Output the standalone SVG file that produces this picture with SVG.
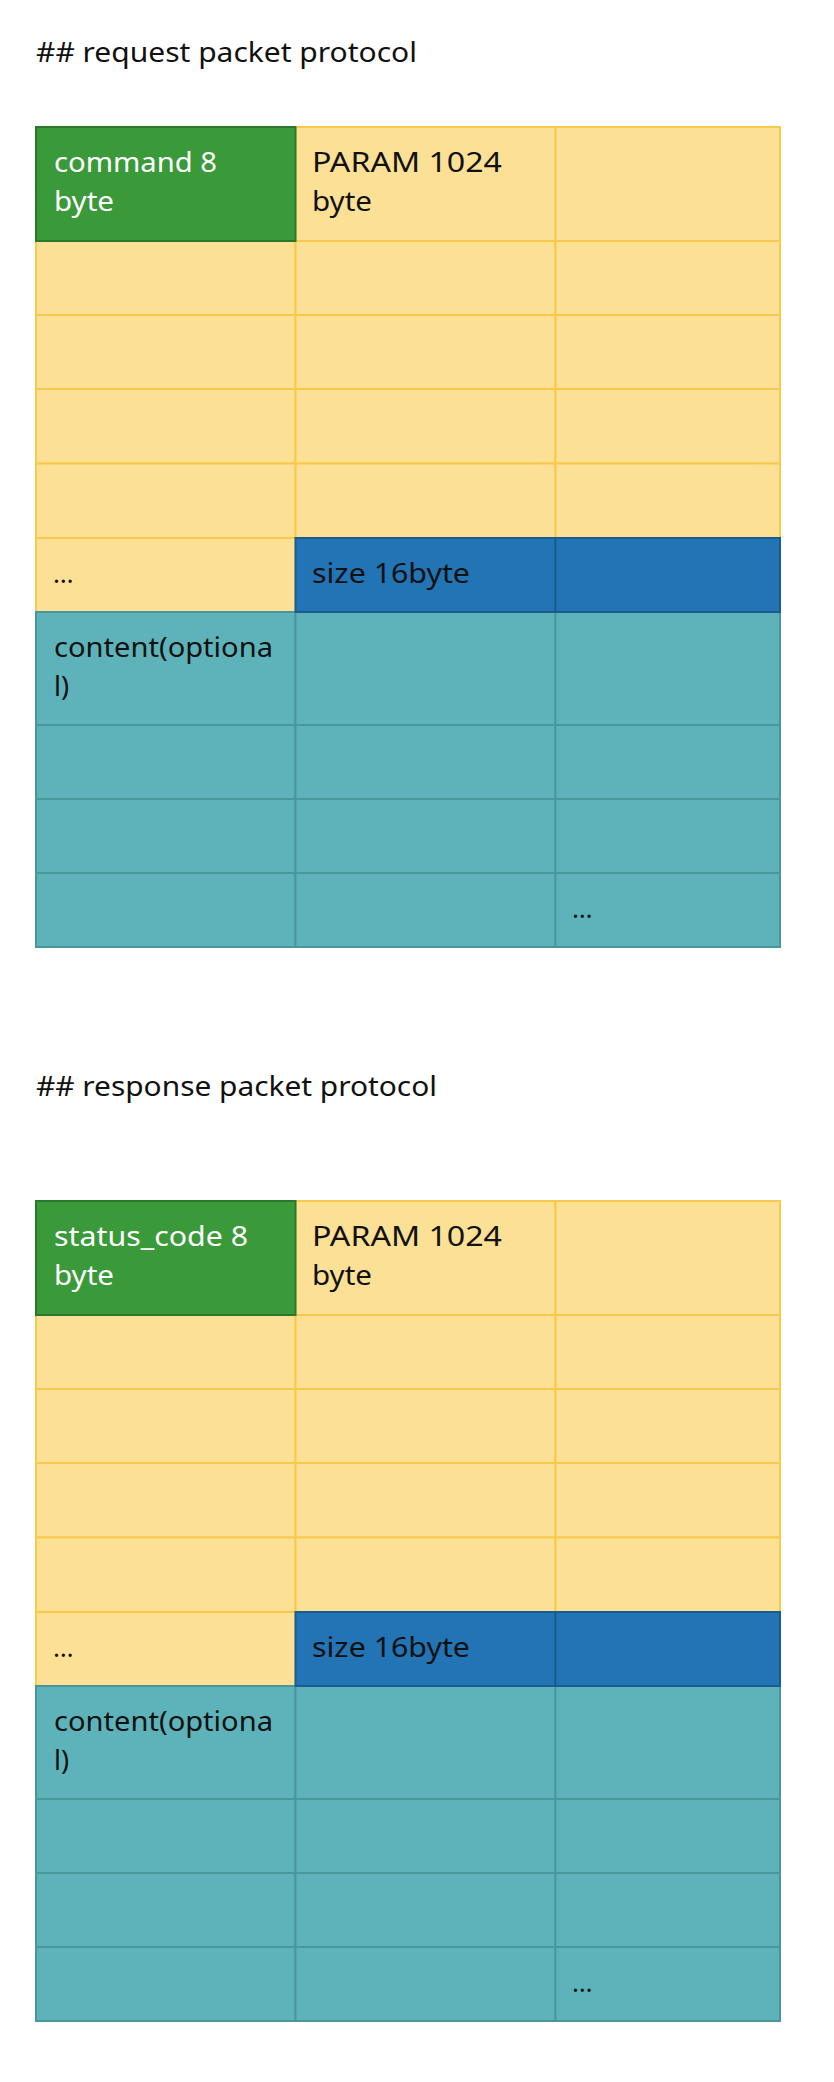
<svg xmlns="http://www.w3.org/2000/svg" width="834" height="2082" viewBox="0 0 834 2082">
<style>
  text { font-family: "Noto Sans", "Liberation Sans", sans-serif; font-size: 27px; fill: #111; }
  .w { fill: #ffffff; }
  .dots { font-size: 26px; }
  .y { fill: #fce095; stroke: #f8c94b; stroke-width: 2; }
  .g { fill: #3a9a3a; stroke: #2a782c; stroke-width: 2; }
  .b { fill: #2274b4; stroke: #1b5c90; stroke-width: 2; }
  .t { fill: #5eb3ba; stroke: #49969c; stroke-width: 2; }
</style>
<rect x="0" y="0" width="834" height="2082" fill="#ffffff"/>

<g id="request">
  <text x="36" y="62" textLength="381" lengthAdjust="spacingAndGlyphs">## request packet protocol</text>
  <g id="req-yellow">
    <rect class="y" x="295.5" y="127" width="260" height="114"/>
    <rect class="y" x="555.5" y="127" width="224.5" height="114"/>
    <rect class="y" x="36" y="241" width="259.5" height="74"/>
    <rect class="y" x="295.5" y="241" width="260" height="74"/>
    <rect class="y" x="555.5" y="241" width="224.5" height="74"/>
    <rect class="y" x="36" y="315" width="259.5" height="74"/>
    <rect class="y" x="295.5" y="315" width="260" height="74"/>
    <rect class="y" x="555.5" y="315" width="224.5" height="74"/>
    <rect class="y" x="36" y="389" width="259.5" height="74.5"/>
    <rect class="y" x="295.5" y="389" width="260" height="74.5"/>
    <rect class="y" x="555.5" y="389" width="224.5" height="74.5"/>
    <rect class="y" x="36" y="463.5" width="259.5" height="74.5"/>
    <rect class="y" x="295.5" y="463.5" width="260" height="74.5"/>
    <rect class="y" x="555.5" y="463.5" width="224.5" height="74.5"/>
    <rect class="y" x="36" y="538" width="259.5" height="74"/>
  </g>
  <g id="req-teal">
    <rect class="t" x="36" y="612" width="259.5" height="113"/>
    <rect class="t" x="295.5" y="612" width="260" height="113"/>
    <rect class="t" x="555.5" y="612" width="224.5" height="113"/>
    <rect class="t" x="36" y="725" width="259.5" height="74"/>
    <rect class="t" x="295.5" y="725" width="260" height="74"/>
    <rect class="t" x="555.5" y="725" width="224.5" height="74"/>
    <rect class="t" x="36" y="799" width="259.5" height="74"/>
    <rect class="t" x="295.5" y="799" width="260" height="74"/>
    <rect class="t" x="555.5" y="799" width="224.5" height="74"/>
    <rect class="t" x="36" y="873" width="259.5" height="74"/>
    <rect class="t" x="295.5" y="873" width="260" height="74"/>
    <rect class="t" x="555.5" y="873" width="224.5" height="74"/>
  </g>
  <g id="req-size">
    <rect class="b" x="295.5" y="538" width="260" height="74"/>
    <rect class="b" x="555.5" y="538" width="224.5" height="74"/>
  </g>
  <g id="req-command">
    <rect class="g" x="36" y="127" width="259.5" height="114"/>
  </g>
  <g id="req-labels">
    <text class="w" x="54" y="172" textLength="163" lengthAdjust="spacingAndGlyphs">command 8</text>
    <text class="w" x="54" y="211" textLength="60" lengthAdjust="spacingAndGlyphs">byte</text>
    <text x="312" y="172" textLength="190" lengthAdjust="spacingAndGlyphs">PARAM 1024</text>
    <text x="312" y="211" textLength="60" lengthAdjust="spacingAndGlyphs">byte</text>
    <text class="dots" x="53" y="583">…</text>
    <text x="312" y="583" textLength="158" lengthAdjust="spacingAndGlyphs">size 16byte</text>
    <text x="54" y="657" textLength="219" lengthAdjust="spacingAndGlyphs">content(optiona</text>
    <text x="54" y="696">l)</text>
    <text class="dots" x="572" y="918">…</text>
  </g>
</g>

<g id="response">
  <text x="36" y="1096" textLength="401" lengthAdjust="spacingAndGlyphs">## response packet protocol</text>
  <g id="res-yellow">
    <rect class="y" x="295.5" y="1201" width="260" height="114"/>
    <rect class="y" x="555.5" y="1201" width="224.5" height="114"/>
    <rect class="y" x="36" y="1315" width="259.5" height="74"/>
    <rect class="y" x="295.5" y="1315" width="260" height="74"/>
    <rect class="y" x="555.5" y="1315" width="224.5" height="74"/>
    <rect class="y" x="36" y="1389" width="259.5" height="74"/>
    <rect class="y" x="295.5" y="1389" width="260" height="74"/>
    <rect class="y" x="555.5" y="1389" width="224.5" height="74"/>
    <rect class="y" x="36" y="1463" width="259.5" height="74.5"/>
    <rect class="y" x="295.5" y="1463" width="260" height="74.5"/>
    <rect class="y" x="555.5" y="1463" width="224.5" height="74.5"/>
    <rect class="y" x="36" y="1537.5" width="259.5" height="74.5"/>
    <rect class="y" x="295.5" y="1537.5" width="260" height="74.5"/>
    <rect class="y" x="555.5" y="1537.5" width="224.5" height="74.5"/>
    <rect class="y" x="36" y="1612" width="259.5" height="74"/>
  </g>
  <g id="res-teal">
    <rect class="t" x="36" y="1686" width="259.5" height="113"/>
    <rect class="t" x="295.5" y="1686" width="260" height="113"/>
    <rect class="t" x="555.5" y="1686" width="224.5" height="113"/>
    <rect class="t" x="36" y="1799" width="259.5" height="74"/>
    <rect class="t" x="295.5" y="1799" width="260" height="74"/>
    <rect class="t" x="555.5" y="1799" width="224.5" height="74"/>
    <rect class="t" x="36" y="1873" width="259.5" height="74"/>
    <rect class="t" x="295.5" y="1873" width="260" height="74"/>
    <rect class="t" x="555.5" y="1873" width="224.5" height="74"/>
    <rect class="t" x="36" y="1947" width="259.5" height="74"/>
    <rect class="t" x="295.5" y="1947" width="260" height="74"/>
    <rect class="t" x="555.5" y="1947" width="224.5" height="74"/>
  </g>
  <g id="res-size">
    <rect class="b" x="295.5" y="1612" width="260" height="74"/>
    <rect class="b" x="555.5" y="1612" width="224.5" height="74"/>
  </g>
  <g id="res-status">
    <rect class="g" x="36" y="1201" width="259.5" height="114"/>
  </g>
  <g id="res-labels">
    <text class="w" x="54" y="1246" textLength="194" lengthAdjust="spacingAndGlyphs">status_code 8</text>
    <text class="w" x="54" y="1285" textLength="60" lengthAdjust="spacingAndGlyphs">byte</text>
    <text x="312" y="1246" textLength="190" lengthAdjust="spacingAndGlyphs">PARAM 1024</text>
    <text x="312" y="1285" textLength="60" lengthAdjust="spacingAndGlyphs">byte</text>
    <text class="dots" x="53" y="1657">…</text>
    <text x="312" y="1657" textLength="158" lengthAdjust="spacingAndGlyphs">size 16byte</text>
    <text x="54" y="1731" textLength="219" lengthAdjust="spacingAndGlyphs">content(optiona</text>
    <text x="54" y="1770">l)</text>
    <text class="dots" x="572" y="1992">…</text>
  </g>
</g>

<g id="connectors"></g>
</svg>
